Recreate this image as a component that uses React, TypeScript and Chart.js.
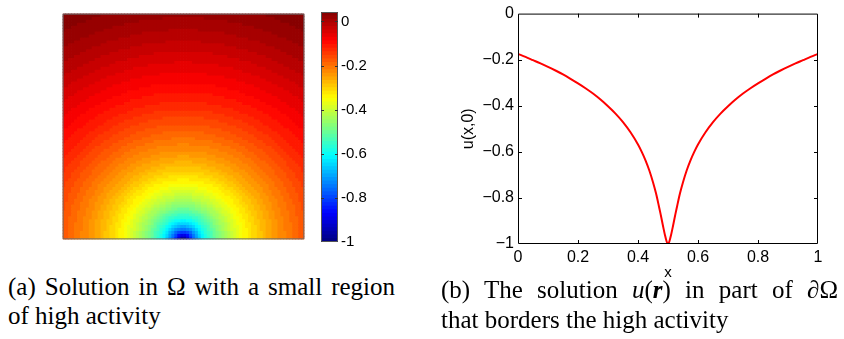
import React, { useEffect, useRef } from "react";
import { Chart, registerables } from "chart.js";

Chart.register(...registerables);

const SANS = "'Liberation Sans', Arial, Helvetica, sans-serif";
const SERIF = "'Liberation Serif', 'Times New Roman', Times, serif";

// ---------- (b) u(x,0) along the boundary ----------
const lineX = [
  0, 0.025, 0.05, 0.075, 0.1, 0.125, 0.15, 0.175, 0.2, 0.225, 0.25, 0.275, 0.3, 0.325, 0.35, 0.375, 0.4,
  0.4125, 0.425, 0.4375, 0.45, 0.46, 0.465, 0.47, 0.475, 0.48, 0.485, 0.49, 0.495,
  0.5,
  0.505, 0.51, 0.515, 0.52, 0.525, 0.53, 0.535, 0.54, 0.55, 0.5625, 0.575, 0.5875,
  0.6, 0.625, 0.65, 0.675, 0.7, 0.725, 0.75, 0.775, 0.8, 0.825, 0.85, 0.875, 0.9, 0.925, 0.95, 0.975, 1,
];
const lineU = [
  -0.175, -0.188, -0.202, -0.216, -0.231, -0.247, -0.264, -0.283, -0.303, -0.324, -0.347, -0.373, -0.402, -0.434, -0.471, -0.515, -0.568,
  -0.6, -0.637, -0.68, -0.732, -0.78, -0.808, -0.838, -0.868, -0.9, -0.932, -0.962, -0.987,
  -1.0,
  -0.987, -0.962, -0.932, -0.9, -0.868, -0.838, -0.808, -0.78, -0.732, -0.68, -0.637, -0.6,
  -0.568, -0.515, -0.471, -0.434, -0.402, -0.373, -0.347, -0.324, -0.303, -0.283, -0.264, -0.247, -0.231, -0.216, -0.202, -0.188, -0.175,
];
const lineXTicks = [0, 0.2, 0.4, 0.6, 0.8, 1];
const lineYTicks = [-1, -0.8, -0.6, -0.4, -0.2, 0];

// ---------- (a) field in Omega: value vs distance from the source (bottom centre) ----------
const radialDist = [0, 0.01, 0.02, 0.03, 0.04, 0.05, 0.075, 0.1, 0.15, 0.2, 0.25, 0.3, 0.35, 0.4, 0.45, 0.5, 0.6, 0.7, 0.8, 0.9, 1.0, 1.12];
const radialValue = [-1, -0.962, -0.9, -0.838, -0.78, -0.732, -0.637, -0.568, -0.471, -0.402, -0.347, -0.303, -0.264, -0.231, -0.202, -0.175, -0.125, -0.085, -0.05, -0.015, 0.015, 0.043];
const sourceX = 0.5;
const colorMin = -1;
const colorMax = 0.043;
const colorbarTicks = [-1, -0.8, -0.6, -0.4, -0.2, 0];
const gridCols = 82;
const gridRows = 77;
const colorLevels = 64;

function jet(t: number): string {
  const c = (v: number) => Math.max(0, Math.min(1, v));
  const r = c(1.5 - Math.abs(4 * t - 3));
  const g = c(1.5 - Math.abs(4 * t - 2));
  const b = c(1.5 - Math.abs(4 * t - 1));
  return `rgb(${Math.round(r * 255)},${Math.round(g * 255)},${Math.round(b * 255)})`;
}
const jetColors = Array.from({ length: colorLevels }, (_, i) => jet((i + 0.5) / colorLevels));

function profileAt(d: number): number {
  if (d <= radialDist[0]) return radialValue[0];
  for (let k = 1; k < radialDist.length; k++) {
    if (d <= radialDist[k]) {
      const f = (d - radialDist[k - 1]) / (radialDist[k] - radialDist[k - 1]);
      return radialValue[k - 1] + f * (radialValue[k] - radialValue[k - 1]);
    }
  }
  return radialValue[radialValue.length - 1];
}
function colorFor(v: number): string {
  let idx = Math.floor(((v - colorMin) / (colorMax - colorMin)) * colorLevels);
  idx = Math.max(0, Math.min(colorLevels - 1, idx));
  return jetColors[idx];
}

const fmtMinus = (v: number) => (v === 0 ? "0" : v < 0 ? "\u2212" + String(Math.abs(v)) : String(v));
const fmtHyphen = (v: number) => (v === 0 ? "0" : String(v));

const boxPlugin = {
  id: "box",
  afterDatasetsDraw(chart: any, _args: any, opts: any) {
    if (!opts || !opts.color) return;
    const { ctx, chartArea: a } = chart;
    ctx.save();
    ctx.strokeStyle = opts.color;
    ctx.lineWidth = 1;
    ctx.beginPath();
    ctx.rect(a.left + 0.5, a.top + 0.5, a.right - a.left - 1, a.bottom - a.top - 1);
    ctx.stroke();
    const len = opts.tickLength || 0;
    if (len > 0) {
      ctx.strokeStyle = opts.tickColor || opts.color;
      ctx.beginPath();
      if (opts.xTicks) {
        for (const v of opts.xTicks) {
          const px = Math.round(chart.scales.x.getPixelForValue(v)) + 0.5;
          ctx.moveTo(px, a.bottom);
          ctx.lineTo(px, a.bottom - len);
          ctx.moveTo(px, a.top);
          ctx.lineTo(px, a.top + len);
        }
      }
      if (opts.yTicks) {
        for (const v of opts.yTicks) {
          const py = Math.round(chart.scales.y.getPixelForValue(v)) + 0.5;
          ctx.moveTo(a.left, py);
          ctx.lineTo(a.left + len, py);
          ctx.moveTo(a.right, py);
          ctx.lineTo(a.right - len, py);
        }
      }
      ctx.stroke();
    }
    ctx.restore();
  },
};

export default function App() {
  const heatRef = useRef<HTMLCanvasElement>(null);
  const barRef = useRef<HTMLCanvasElement>(null);
  const lineRef = useRef<HTMLCanvasElement>(null);

  useEffect(() => {
    const charts: Chart[] = [];

    // ----- heat map -----
    const heatPoints: { x: number; y: number }[] = [];
    const heatColors: string[] = [];
    for (let j = 0; j < gridRows; j++) {
      for (let i = 0; i < gridCols; i++) {
        const x = (i + 0.5) / gridCols;
        const y = (j + 0.5) / gridRows;
        heatPoints.push({ x, y });
        heatColors.push(colorFor(profileAt(Math.hypot(x - sourceX, y))));
      }
    }
    const cellRadius = 3.7 / Math.SQRT2;
    if (heatRef.current) {
      charts.push(
        new Chart(heatRef.current, {
          type: "scatter",
          data: {
            datasets: [
              {
                data: heatPoints,
                pointStyle: "rect",
                pointRadius: cellRadius,
                pointHoverRadius: cellRadius,
                pointBackgroundColor: heatColors,
                pointBorderWidth: 0,
                borderWidth: 0,
                clip: 0,
              } as any,
            ],
          },
          options: {
            responsive: false,
            animation: false,
            devicePixelRatio: 1,
            events: [],
            layout: { padding: 0 },
            scales: {
              x: { type: "linear", min: 0, max: 1, display: false },
              y: { type: "linear", min: 0, max: 1, display: false },
            },
            plugins: {
              legend: { display: false },
              tooltip: { enabled: false },
              box: { color: "#6a6a6a" },
            } as any,
          },
          plugins: [boxPlugin],
        })
      );
    }

    // ----- colour bar -----
    const step = (colorMax - colorMin) / colorLevels;
    if (barRef.current) {
      charts.push(
        new Chart(barRef.current, {
          type: "bar",
          data: {
            labels: [""],
            datasets: jetColors.map((c, i) => {
              const lo = colorMin + i * step;
              const hi = lo + step;
              return {
                data: [[i === 0 ? lo : lo - step * 0.3, hi]],
                backgroundColor: c,
                borderWidth: 0,
                grouped: false,
                barPercentage: 1,
                categoryPercentage: 1,
              } as any;
            }),
          },
          options: {
            responsive: false,
            animation: false,
            devicePixelRatio: 1,
            events: [],
            layout: { padding: { left: 0, top: 11, right: 0, bottom: 20 } },
            scales: {
              x: { display: false },
              y: {
                position: "right",
                min: colorMin,
                max: colorMax,
                afterBuildTicks: (s: any) => {
                  s.ticks = colorbarTicks.map((v) => ({ value: v }));
                },
                afterFit: (s: any) => {
                  s.width = 43;
                },
                grid: { display: false, drawTicks: false },
                border: { display: false },
                ticks: {
                  color: "#000",
                  padding: 3,
                  font: { family: SANS, size: 15 },
                  callback: (v: any) => fmtHyphen(Number(v)),
                },
              },
            },
            plugins: {
              legend: { display: false },
              tooltip: { enabled: false },
              box: { color: "#555", tickLength: 3, tickColor: "#333", yTicks: [-0.8, -0.6, -0.4, -0.2, 0] },
            } as any,
          },
          plugins: [boxPlugin],
        })
      );
    }

    // ----- line plot -----
    if (lineRef.current) {
      charts.push(
        new Chart(lineRef.current, {
          type: "line",
          data: {
            datasets: [
              {
                data: lineX.map((x, i) => ({ x, y: lineU[i] })),
                borderColor: "#ff0000",
                borderWidth: 2,
                pointRadius: 0,
                cubicInterpolationMode: "monotone",
                fill: false,
              },
            ],
          },
          options: {
            responsive: false,
            animation: false,
            devicePixelRatio: 1,
            events: [],
            layout: { padding: { left: 0, top: 9, right: 26, bottom: 0 } },
            scales: {
              x: {
                type: "linear",
                min: 0,
                max: 1,
                afterBuildTicks: (s: any) => {
                  s.ticks = lineXTicks.map((v) => ({ value: v }));
                },
                afterFit: (s: any) => {
                  s.height = 41;
                },
                grid: { display: false, drawTicks: false },
                border: { display: false },
                ticks: {
                  color: "#000",
                  padding: 4,
                  maxRotation: 0,
                  autoSkip: false,
                  font: { family: SANS, size: 16 },
                  callback: (v: any) => fmtMinus(Number(v)),
                },
                title: {
                  display: true,
                  text: "x",
                  color: "#000",
                  font: { family: SANS, size: 15 },
                  padding: { top: 0, bottom: 3 },
                },
              },
              y: {
                type: "linear",
                min: -1,
                max: 0,
                afterBuildTicks: (s: any) => {
                  s.ticks = lineYTicks.map((v) => ({ value: v }));
                },
                afterFit: (s: any) => {
                  s.width = 78;
                },
                grid: { display: false, drawTicks: false },
                border: { display: false },
                ticks: {
                  color: "#000",
                  padding: 4,
                  font: { family: SANS, size: 16 },
                  callback: (v: any) => fmtMinus(Number(v)),
                },
                title: {
                  display: true,
                  text: "u(x,0)",
                  color: "#000",
                  font: { family: SANS, size: 16 },
                  padding: { top: 19, bottom: 0 },
                },
              },
            },
            plugins: {
              legend: { display: false },
              tooltip: { enabled: false },
              box: { color: "#000", tickLength: 4, xTicks: [0.2, 0.4, 0.6, 0.8], yTicks: [-0.8, -0.6, -0.4, -0.2] },
            } as any,
          },
          plugins: [boxPlugin],
        })
      );
    }

    return () => charts.forEach((c) => c.destroy());
  }, []);

  const cap: React.CSSProperties = {
    position: "absolute",
    fontFamily: SERIF,
    fontSize: 25,
    lineHeight: "30px",
    color: "#000",
    margin: 0,
    whiteSpace: "normal",
  };
  const just: React.CSSProperties = { textAlign: "justify", textAlignLast: "justify" as any };

  return (
    <div style={{ position: "absolute", left: 0, top: 0, width: 844, height: 339, overflow: "hidden", background: "#fff" }}>
      <canvas ref={heatRef} width={247} height={231} style={{ position: "absolute", left: 60, top: 11, width: 247, height: 231 }} />
      <canvas ref={barRef} width={60} height={262} style={{ position: "absolute", left: 321, top: 0, width: 60, height: 262 }} />
      <canvas ref={lineRef} width={404} height={285} style={{ position: "absolute", left: 440, top: 0, width: 404, height: 285 }} />

      <div style={{ ...cap, ...just, left: 8, top: 272, width: 387 }}>(a) Solution in {"\u03A9"} with a small region</div>
      <div style={{ ...cap, left: 8, top: 301 }}>of high activity</div>

      <div style={{ ...cap, ...just, left: 441, top: 275, width: 397 }}>
        (b) The solution <span style={{ fontStyle: "italic" }}>u</span>(<span style={{ fontStyle: "italic", fontWeight: "bold" }}>r</span>) in part of {"\u2202\u03A9"}
      </div>
      <div style={{ ...cap, left: 441, top: 305 }}>that borders the high activity</div>
    </div>
  );
}
